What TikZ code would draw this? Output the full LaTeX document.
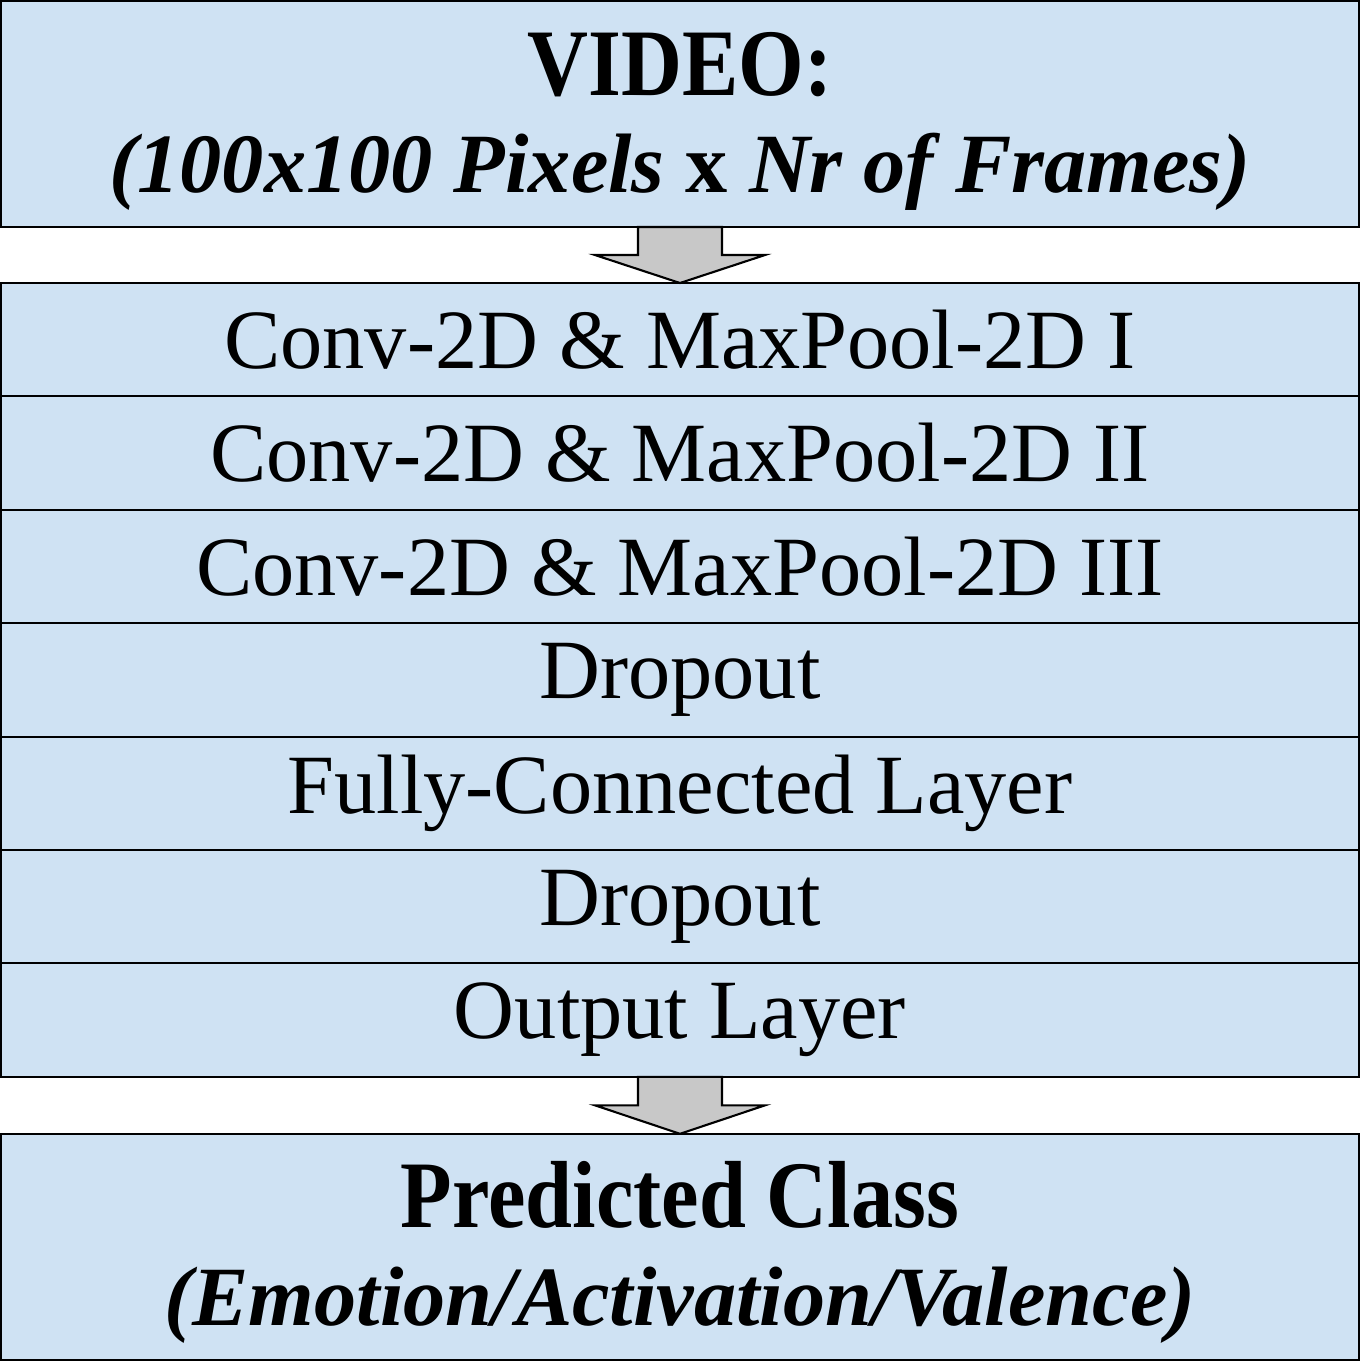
\documentclass[tikz,border=0pt]{standalone}
\usepackage{fontspec}
\setmainfont{Liberation Serif}
\usetikzlibrary{positioning,calc}
\definecolor{layerblue}{RGB}{207,226,243}
\definecolor{arrowgray}{RGB}{200,200,200}
% block arrow between two stacked boxes
\newcommand{\blockarrow}[2]{%
  \coordinate (mid) at ($(#1.south)!0.5!(#2.north)$);
  \draw[arrowbox] ($(#1.south)+(-0.42,0)$) -- ($(#1.south)+(0.42,0)$)
    -- ($(mid)+(0.42,0)$) -- ($(mid)+(0.85,0)$) -- (#2.north)
    -- ($(mid)+(-0.85,0)$) -- ($(mid)+(-0.42,0)$) -- cycle;}
% tall bold heading line, and the italic line under it
\newcommand{\headline}[1]{\rule{0pt}{25.5pt}\scalebox{1}[1.13]{\textbf{#1}}}
\newcommand{\subline}[1]{\textbf{\textit{#1}}\rule[-8.5pt]{0pt}{0pt}}
\begin{document}
\begin{tikzpicture}[
  box/.style={draw=black, line width=0.6pt, fill=layerblue, minimum width=13.58cm,
    inner sep=0pt, outer sep=0pt, align=center, font=\fontsize{24}{27.8}\selectfont},
  layer/.style={box, minimum height=1.134cm, anchor=north},
  arrowbox/.style={draw=black, line width=0.6pt, fill=arrowgray, line join=miter}]
	\useasboundingbox (0,0) rectangle (13.62,-13.64);
	\node[box, minimum height=2.26cm, anchor=north] (video) at (6.80,-0.01)
		{\headline{VIDEO:}\\\subline{(100x100 Pixels\/ \upshape x \itshape Nr of Frames)}};
	\foreach \i/\txt in {1/Conv-2D \& MaxPool-2D I, 2/Conv-2D \& MaxPool-2D II,
		3/Conv-2D \& MaxPool-2D III, 4/Dropout, 5/Fully-Connected Layer,
		6/Dropout, 7/Output Layer}
	\node[layer] (l\i) at (6.80,{-2.83-(\i-1)*1.134}) {\txt};
	\node[box, minimum height=2.26cm, below=0.57cm of l7] (pred)
		{\headline{Predicted Class}\\\subline{(Emotion/Activation/Valence)}};
	\blockarrow{video}{l1}
	\blockarrow{l7}{pred}
\end{tikzpicture}
\end{document}
